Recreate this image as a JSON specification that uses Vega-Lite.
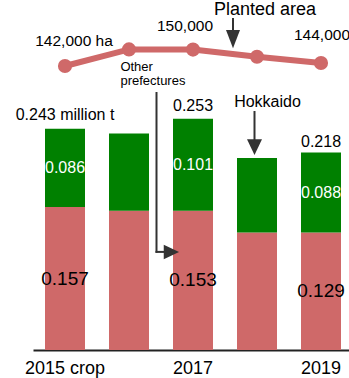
{
  "$schema": "https://vega.github.io/schema/vega-lite/v6.json",
  "width": 316,
  "height": 350,
  "autosize": {"type": "none"},
  "padding": {"left": 33, "top": 0, "right": 0, "bottom": 28},
  "config": {"view": {"stroke": null}, "font": "Liberation Sans", "text": {"font": "Liberation Sans"}},
  "datasets": {
    "production": [
      {"year": "2015", "region": "Other prefectures", "value": 0.157},
      {"year": "2015", "region": "Hokkaido", "value": 0.086},
      {"year": "2016", "region": "Other prefectures", "value": 0.153},
      {"year": "2016", "region": "Hokkaido", "value": 0.085},
      {"year": "2017", "region": "Other prefectures", "value": 0.153},
      {"year": "2017", "region": "Hokkaido", "value": 0.101},
      {"year": "2018", "region": "Other prefectures", "value": 0.129},
      {"year": "2018", "region": "Hokkaido", "value": 0.082},
      {"year": "2019", "region": "Other prefectures", "value": 0.129},
      {"year": "2019", "region": "Hokkaido", "value": 0.088}
    ],
    "totals": [
      {"year": "2015", "total": 0.243, "label": "0.243 million t"},
      {"year": "2017", "total": 0.253, "label": "0.253"},
      {"year": "2019", "total": 0.218, "label": "0.218"}
    ],
    "area": [
      {"year": "2015", "area": 142000, "label": "142,000 ha"},
      {"year": "2016", "area": 150300, "label": ""},
      {"year": "2017", "area": 150200, "label": "150,000"},
      {"year": "2018", "area": 146600, "label": ""},
      {"year": "2019", "area": 143500, "label": "144,000"}
    ],
    "one": [{"note": "annotation"}]
  },
  "encoding": {
    "x": {
      "field": "year",
      "type": "ordinal",
      "scale": {"domain": ["2015", "2016", "2017", "2018", "2019"], "range": [0, 320], "paddingInner": 0.375, "paddingOuter": 0.1875},
      "axis": {
        "title": null,
        "domain": true,
        "domainColor": "#222222",
        "domainWidth": 2,
        "ticks": false,
        "grid": false,
        "labelPadding": 9,
        "labelFontSize": 18,
        "labelColor": "#000000",
        "labelFont": "Liberation Sans",
        "labelAngle": 0,
        "labelExpr": "datum.value == '2015' ? '2015 crop' : (datum.value == '2016' || datum.value == '2018') ? '' : datum.value"
      }
    }
  },
  "layer": [
    {
      "data": {"name": "production"},
      "transform": [
        {"stack": "value", "groupby": ["year"], "sort": [{"field": "region", "order": "descending"}], "as": ["v0", "v1"]}
      ],
      "layer": [
        {
          "mark": {"type": "bar"},
          "encoding": {
            "y": {"field": "v0", "type": "quantitative", "scale": {"domain": [0, 0.3846], "nice": false, "zero": true}, "axis": null},
            "y2": {"field": "v1"},
            "color": {"field": "region", "type": "nominal", "scale": {"domain": ["Other prefectures", "Hokkaido"], "range": ["#cf6969", "#008000"]}, "legend": null}
          }
        },
        {
          "transform": [
            {"filter": {"field": "year", "oneOf": ["2015", "2017", "2019"]}},
            {"filter": {"field": "region", "equal": "Other prefectures"}},
            {"fold": ["v0", "v1"], "as": ["edge", "pos"]},
            {"aggregate": [{"op": "mean", "field": "pos", "as": "mid"}], "groupby": ["year", "value"]}
          ],
          "mark": {"type": "text", "fontSize": 19, "color": "#000000", "baseline": "middle", "align": "center"},
          "encoding": {
            "y": {"field": "mid", "type": "quantitative", "axis": null},
            "text": {"field": "value", "type": "quantitative", "format": ".3f"}
          }
        },
        {
          "transform": [
            {"filter": {"field": "year", "oneOf": ["2015", "2017", "2019"]}},
            {"filter": {"field": "region", "equal": "Hokkaido"}},
            {"fold": ["v0", "v1"], "as": ["edge", "pos"]},
            {"aggregate": [{"op": "mean", "field": "pos", "as": "mid"}], "groupby": ["year", "value"]}
          ],
          "mark": {"type": "text", "fontSize": 16, "color": "#ffffff", "baseline": "middle", "align": "center"},
          "encoding": {
            "y": {"field": "mid", "type": "quantitative", "axis": null},
            "text": {"field": "value", "type": "quantitative", "format": ".3f"}
          }
        },
        {
          "data": {"name": "totals"},
          "transform": [{"filter": {"field": "year", "oneOf": ["2015", "2017"]}}],
          "mark": {"type": "text", "fontSize": 16, "color": "#000000", "baseline": "alphabetic", "align": "center", "dy": -8.5},
          "encoding": {
            "y": {"field": "total", "type": "quantitative", "axis": null},
            "text": {"field": "label", "type": "nominal"}
          }
        },
        {
          "data": {"name": "totals"},
          "transform": [{"filter": {"field": "year", "equal": "2019"}}],
          "mark": {"type": "text", "fontSize": 16, "color": "#000000", "baseline": "alphabetic", "align": "center", "dy": -4.5},
          "encoding": {
            "y": {"field": "total", "type": "quantitative", "axis": null},
            "text": {"field": "label", "type": "nominal"}
          }
        },
        {
          "data": {"name": "one"},
          "mark": {"type": "text", "fontSize": 13, "color": "#000000", "align": "left", "baseline": "alphabetic", "dx": -8.6, "lineHeight": 14.5},
          "encoding": {
            "x": {"datum": "2016", "type": "ordinal"},
            "y": {"datum": 0.3066, "type": "quantitative", "axis": null},
            "text": {"value": ["Other", "prefectures"]}
          }
        },
        {
          "data": {"name": "one"},
          "mark": {"type": "rule", "color": "#333333", "strokeWidth": 2, "xOffset": -36.5},
          "encoding": {
            "x": {"datum": "2017", "type": "ordinal"},
            "y": {"datum": 0.2835, "type": "quantitative", "axis": null},
            "y2": {"datum": 0.1069}
          }
        },
        {
          "data": {"name": "one"},
          "mark": {"type": "rule", "color": "#333333", "strokeWidth": 2, "xOffset": -37.5, "x2Offset": -26},
          "encoding": {
            "x": {"datum": "2017", "type": "ordinal"},
            "x2": {"datum": "2017"},
            "y": {"datum": 0.1078, "type": "quantitative", "axis": null}
          }
        },
        {
          "data": {"name": "one"},
          "mark": {"type": "point", "filled": true, "opacity": 1, "color": "#333333", "strokeWidth": 0, "size": 234, "shape": "M-1,-0.95L1,0L-1,0.95Z", "xOffset": -21.6},
          "encoding": {
            "x": {"datum": "2017", "type": "ordinal"},
            "y": {"datum": 0.1078, "type": "quantitative", "axis": null}
          }
        },
        {
          "data": {"name": "one"},
          "mark": {"type": "text", "fontSize": 16, "color": "#000000", "align": "center", "baseline": "alphabetic", "dx": 10.5},
          "encoding": {
            "x": {"datum": "2018", "type": "ordinal"},
            "y": {"datum": 0.2674, "type": "quantitative", "axis": null},
            "text": {"value": "Hokkaido"}
          }
        },
        {
          "data": {"name": "one"},
          "mark": {"type": "rule", "color": "#333333", "strokeWidth": 2, "xOffset": -2.5},
          "encoding": {
            "x": {"datum": "2018", "type": "ordinal"},
            "y": {"datum": 0.2626, "type": "quantitative", "axis": null},
            "y2": {"datum": 0.2286}
          }
        },
        {
          "data": {"name": "one"},
          "mark": {"type": "point", "filled": true, "opacity": 1, "color": "#333333", "strokeWidth": 0, "size": 225, "shape": "M-1,-1.05L1,-1.05L0,1.05Z", "xOffset": -2.5},
          "encoding": {
            "x": {"datum": "2018", "type": "ordinal"},
            "y": {"datum": 0.2229, "type": "quantitative", "axis": null}
          }
        }
      ]
    },
    {
      "data": {"name": "area"},
      "layer": [
        {
          "mark": {"type": "line", "color": "#cf6969", "strokeWidth": 6},
          "encoding": {
            "y": {"field": "area", "type": "quantitative", "scale": {"domain": [0, 175000], "nice": false, "zero": true}, "axis": null}
          }
        },
        {
          "mark": {"type": "point", "filled": true, "opacity": 1, "color": "#cf6969", "size": 200, "shape": "circle"},
          "encoding": {
            "y": {"field": "area", "type": "quantitative", "axis": null}
          }
        },
        {
          "transform": [{"filter": {"field": "year", "equal": "2015"}}],
          "mark": {"type": "text", "fontSize": 15.5, "color": "#000000", "align": "center", "baseline": "alphabetic", "dx": 9, "dy": -20},
          "encoding": {
            "y": {"field": "area", "type": "quantitative", "axis": null},
            "text": {"field": "label", "type": "nominal"}
          }
        },
        {
          "transform": [{"filter": {"field": "year", "equal": "2017"}}],
          "mark": {"type": "text", "fontSize": 15.5, "color": "#000000", "align": "center", "baseline": "alphabetic", "dx": -8, "dy": -18.6},
          "encoding": {
            "y": {"field": "area", "type": "quantitative", "axis": null},
            "text": {"field": "label", "type": "nominal"}
          }
        },
        {
          "transform": [{"filter": {"field": "year", "equal": "2019"}}],
          "mark": {"type": "text", "fontSize": 15.5, "color": "#000000", "align": "center", "baseline": "alphabetic", "dx": 1, "dy": -23},
          "encoding": {
            "y": {"field": "area", "type": "quantitative", "axis": null},
            "text": {"field": "label", "type": "nominal"}
          }
        },
        {
          "data": {"name": "one"},
          "mark": {"type": "text", "fontSize": 18, "color": "#000000", "align": "center", "baseline": "alphabetic", "dx": 8},
          "encoding": {
            "x": {"datum": "2018", "type": "ordinal"},
            "y": {"datum": 167500, "type": "quantitative", "axis": null},
            "text": {"value": "Planted area"}
          }
        },
        {
          "data": {"name": "one"},
          "mark": {"type": "rule", "color": "#333333", "strokeWidth": 2, "xOffset": -24},
          "encoding": {
            "x": {"datum": "2018", "type": "ordinal"},
            "y": {"datum": 166000, "type": "quantitative", "axis": null},
            "y2": {"datum": 157000}
          }
        },
        {
          "data": {"name": "one"},
          "mark": {"type": "point", "filled": true, "opacity": 1, "color": "#333333", "strokeWidth": 0, "size": 196, "shape": "M-1,-1.3L1,-1.3L0,1.3Z", "xOffset": -24},
          "encoding": {
            "x": {"datum": "2018", "type": "ordinal"},
            "y": {"datum": 155400, "type": "quantitative", "axis": null}
          }
        }
      ]
    }
  ],
  "resolve": {"scale": {"y": "independent"}}
}
